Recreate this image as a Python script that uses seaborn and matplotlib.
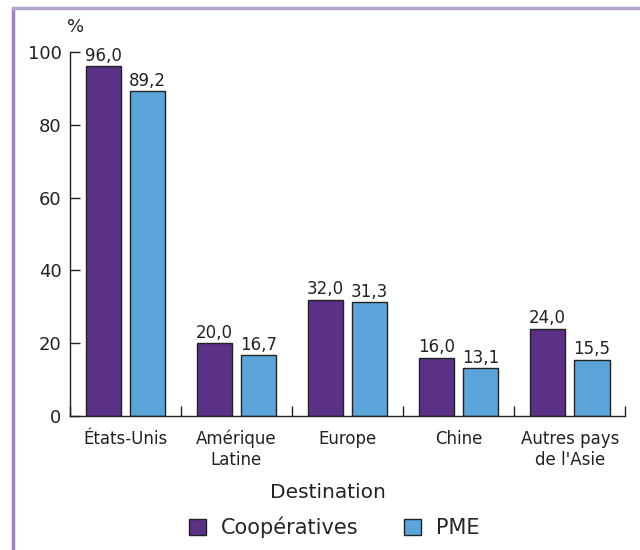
import pandas as pd
import numpy as np
import matplotlib.pyplot as plt
import seaborn as sns
from matplotlib.lines import Line2D
from matplotlib.ticker import FixedLocator

# Données
destinations = ["États-Unis", "Amérique\nLatine", "Europe", "Chine", "Autres pays\nde l'Asie"]
cooperatives = [96.0, 20.0, 32.0, 16.0, 24.0]
pme = [89.2, 16.7, 31.3, 13.1, 15.5]
series = ["Coopératives", "PME"]
colors = ["#5b3188", "#5ba5da"]

df = pd.DataFrame({
    "Destination": destinations * 2,
    "Valeur": cooperatives + pme,
    "Type": [series[0]] * len(destinations) + [series[1]] * len(destinations),
})

sns.set_style("white")
plt.rcParams['font.family'] = ['DejaVu Sans']

fig = plt.figure(figsize=(6.4, 5.5), dpi=100)
ax = fig.add_axes([0.109, 0.2436, 0.868, 0.662])

sns.barplot(data=df, x="Destination", y="Valeur", hue="Type", order=destinations,
            hue_order=series, palette=colors, width=0.8, gap=0.21,
            edgecolor="#222222", linewidth=1.0, saturation=1, legend=False, ax=ax)

# Valeurs au-dessus des barres
for cont in ax.containers:
    labels = [f"{v:.1f}".replace(".", ",") for v in cont.datavalues]
    ax.bar_label(cont, labels=labels, padding=1, fontsize=12, color="#222222")

ax.set_xlim(-0.5, len(destinations) - 0.5)
ax.set_ylim(0, 100)
ax.set_yticks([0, 20, 40, 60, 80, 100])
ax.tick_params(axis="y", direction="in", length=7, width=1, labelsize=13,
               color="#222222", labelcolor="#222222", left=True, pad=6)
ax.tick_params(axis="x", which="major", length=0, labelsize=12, pad=10,
               labelcolor="#222222")
ax.xaxis.set_minor_locator(FixedLocator(np.arange(-0.5, len(destinations), 1)))
ax.tick_params(axis="x", which="minor", direction="in", length=7, width=1,
               color="#222222", bottom=True)

for s in ["top", "right"]:
    ax.spines[s].set_visible(False)
for s in ["left", "bottom"]:
    ax.spines[s].set_color("#222222")
    ax.spines[s].set_linewidth(1)

ax.set_ylabel("")
ax.set_xlabel("Destination", fontsize=14.5, color="#222222")
ax.xaxis.set_label_coords(0.465, -0.185)
ax.text(-0.005, 1.055, "%", transform=ax.transAxes, fontsize=13, color="#222222")

# Légende
handles = [plt.Rectangle((0, 0), 1, 1, facecolor=c, edgecolor="#222222") for c in colors]
fig.legend(handles, series, loc="lower center", bbox_to_anchor=(0.522, -0.012), ncol=2,
           frameon=False, fontsize=15, handlelength=0.82, handleheight=0.82,
           columnspacing=2.2, handletextpad=0.72)

# Cadre
fig.add_artist(Line2D([0.021, 0.021], [0, 0.985], transform=fig.transFigure,
                      color="#9b86c0", lw=2.5))
fig.add_artist(Line2D([0.021, 1.0], [0.985, 0.985], transform=fig.transFigure,
                      color="#b3a4cf", lw=2.5))

fig.savefig("out.png", dpi=100)
